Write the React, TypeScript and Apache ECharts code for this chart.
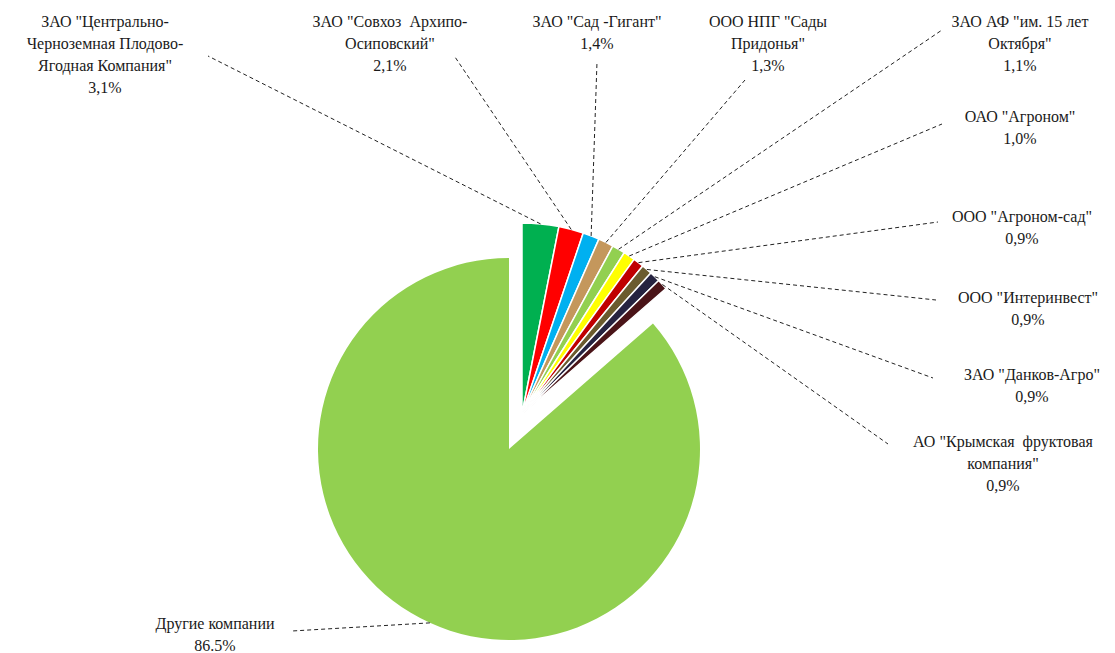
import React, { useEffect, useRef } from "react";
import * as echarts from "echarts";

const names = [
  'ЗАО "Центрально-\nЧерноземная Плодово-\nЯгодная Компания"',
  'ЗАО "Совхоз  Архипо-\nОсиповский"',
  'ЗАО "Сад -Гигант"',
  'ООО НПГ "Сады\nПридонья"',
  'ЗАО АФ "им. 15 лет\nОктября"',
  'ОАО "Агроном"',
  'ООО "Агроном-сад"',
  'ООО "Интеринвест"',
  'ЗАО "Данков-Агро"',
  'АО "Крымская  фруктовая\nкомпания"',
  "Другие компании",
];
const values = [3.1, 2.1, 1.4, 1.3, 1.1, 1.0, 0.9, 0.9, 0.9, 0.9, 86.5];
const pctLabels = ["3,1%", "2,1%", "1,4%", "1,3%", "1,1%", "1,0%", "0,9%", "0,9%", "0,9%", "0,9%", "86.5%"];
const colors = [
  "#00B050", "#FF0000", "#00B0F0", "#C4975C", "#92D050", "#FFFF00",
  "#C00000", "#6B5B2E", "#262340", "#4A1418", "#92D050",
];
const OTHER = 10;

// layout: label anchor (centre x, top y) and label-side end of leader lines
const labelAnchors: number[][] = [
  [105, 10], [390, 10], [597, 10], [768, 10], [1020, 10], [1020, 105],
  [1022, 205], [1028, 286], [1032, 363], [1003, 430], [215, 612],
];
const lineEnds: number[][] = [
  [208, 56], [455, 57], [597, 62], [745, 80], [942, 30], [942, 124],
  [938, 222], [936, 300], [933, 378], [888, 444], [292, 631],
];

const BIG_CENTER = [509, 449];
const SMALL_CENTER = [522, 414];
const RADIUS = 191;
const FONT = "serif";

export default function App() {
  const ref = useRef<HTMLDivElement>(null);
  useEffect(() => {
    document.body.style.margin = "0";
    const chart = echarts.init(ref.current!, null, { renderer: "svg" });
    const total = values.reduce((a, b) => a + b, 0);
    const midPoint = (i: number) => {
      const c = i === OTHER ? BIG_CENTER : SMALL_CENTER;
      let cum = 0;
      for (let k = 0; k < i; k++) cum += values[k];
      const ang = ((90 - ((cum + values[i] / 2) / total) * 360) * Math.PI) / 180;
      return [c[0] + RADIUS * Math.cos(ang), c[1] - RADIUS * Math.sin(ang)];
    };
    const hidden = { itemStyle: { color: "transparent", borderWidth: 0 } };
    const common = {
      type: "pie",
      radius: RADIUS,
      startAngle: 90,
      clockwise: true,
      silent: true,
      label: { show: false },
      labelLine: { show: false },
    };
    const lines = values.map((_, i) => {
      const s = midPoint(i);
      return {
        type: "line",
        silent: true,
        z: 100,
        shape: { x1: s[0], y1: s[1], x2: lineEnds[i][0], y2: lineEnds[i][1] },
        style: { stroke: "#222", lineWidth: 1, lineDash: [4, 3] },
      };
    });
    const texts = values.map((_, i) => ({
      type: "text",
      silent: true,
      z: 100,
      x: labelAnchors[i][0],
      y: labelAnchors[i][1],
      style: {
        text: names[i] + "\n" + pctLabels[i],
        fontFamily: FONT,
        fontSize: 16,
        lineHeight: 22,
        fill: "#1a1a1a",
        align: "center",
        textAlign: "center",
        verticalAlign: "top",
        textVerticalAlign: "top",
      },
    }));
    chart.setOption({
      animation: false,
      backgroundColor: "#fff",
      textStyle: { fontFamily: FONT },
      graphic: [...lines, ...texts],
      series: [
        {
          ...common,
          center: BIG_CENTER,
          data: values.map((v, i) =>
            i === OTHER
              ? { value: v, name: names[i], itemStyle: { color: colors[i], borderWidth: 0 } }
              : { value: v, name: names[i], ...hidden }
          ),
        },
        {
          ...common,
          center: SMALL_CENTER,
          itemStyle: { borderColor: "#fff", borderWidth: 1.5 },
          data: values.map((v, i) =>
            i === OTHER
              ? { value: v, name: names[i], ...hidden }
              : { value: v, name: names[i], itemStyle: { color: colors[i] } }
          ),
        },
      ],
    });
    return () => chart.dispose();
  }, []);
  return (
    <div
      ref={ref}
      style={{ position: "fixed", left: 0, top: 0, width: 1115, height: 653 }}
    />
  );
}
